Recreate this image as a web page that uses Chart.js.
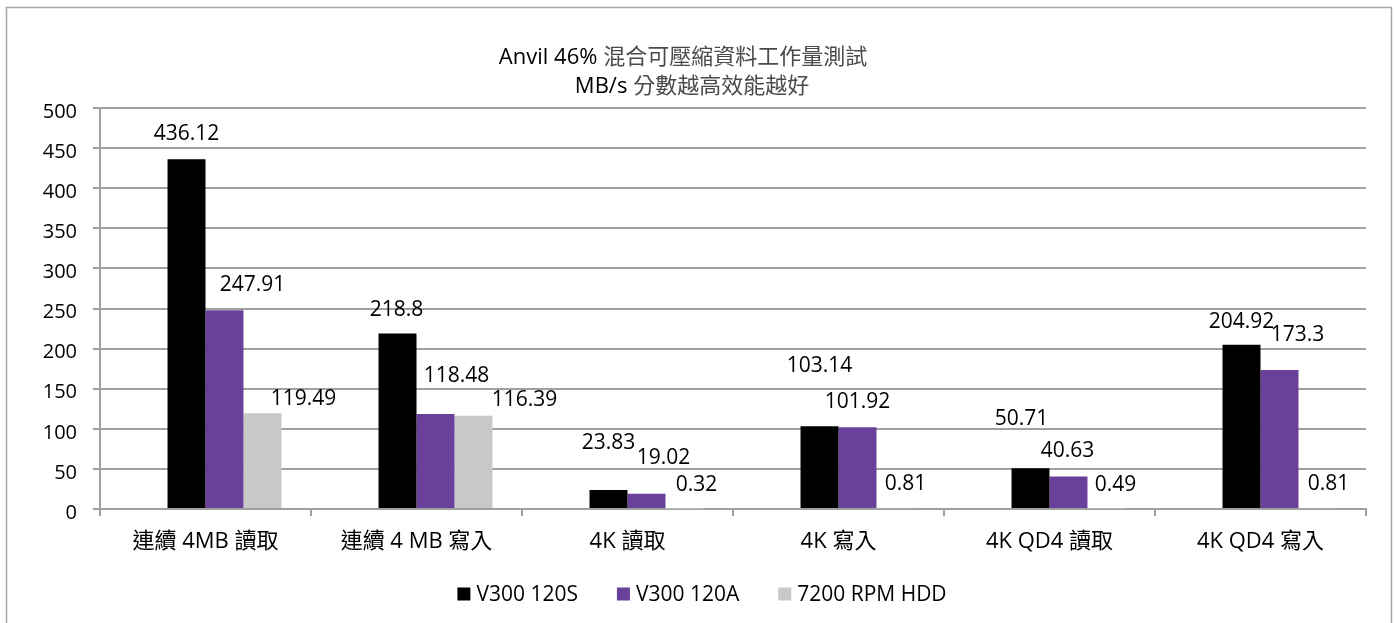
<!DOCTYPE html>
<html>
<head>
<meta charset="utf-8">
<script src="https://cdn.jsdelivr.net/npm/chart.js@4.4.1/dist/chart.umd.min.js"></script>
<style>
  html, body { margin: 0; padding: 0; background: #fff; }
  #wrap { width: 1394px; height: 623px; }
</style>
</head>
<body>
<div id="wrap"><canvas id="chart"></canvas></div>
<script>
const categories = ['連續 4MB 讀取', '連續 4 MB 寫入', '4K 讀取', '4K 寫入', '4K QD4 讀取', '4K QD4 寫入'];
const seriesNames = ['V300 120S', 'V300 120A', '7200 RPM HDD'];
const v300_120s = [436.12, 218.8, 23.83, 103.14, 50.71, 204.92];
const v300_120a = [247.91, 118.48, 19.02, 101.92, 40.63, 173.3];
const hdd7200 = [119.49, 116.39, 0.32, 0.81, 0.49, 0.81];
const yMin = 0, yMax = 500, yStep = 50;
const titleLines = [['Anvil 46% ', '混合可壓縮資料工作量測試'], ['MB/s ', '分數越高效能越好']];

const colors = ['#000000', '#6a419a', '#c8c8c8'];
const FONT = "'Open Sans', 'Noto Sans CJK TC', sans-serif";

// label nudges [dx, dy from bar top], mimicking the original placement
const labelNudge = [
  [[0, -25], [-1, -24], [0, -47], [0, -60], [-9, -49], [0, -23]],
  [[28, -25], [21, -38], [17, -36], [0, -25], [-1, -25], [18, -35]],
  [[41, -14], [51, -16], [12, -24], [10, -24], [9, -24], [11, -24]]
];

const seriesData = [v300_120s, v300_120a, hdd7200];

// empty first slot: the original groups reserve room for one unused series
const datasets = [{ label: '', data: categories.map(() => null), backgroundColor: 'rgba(0,0,0,0)' }];
seriesNames.forEach((name, i) => {
  datasets.push({ label: name, data: seriesData[i], backgroundColor: colors[i], borderWidth: 0 });
});

const framePlugin = {
  id: 'frame',
  beforeDraw(chart) {
    const ctx = chart.ctx;
    ctx.save();
    ctx.fillStyle = '#fff';
    ctx.fillRect(0, 0, chart.width, chart.height);
    ctx.strokeStyle = '#a6a6a6';
    ctx.lineWidth = 1.5;
    ctx.strokeRect(6.5, 7.5, 1385, 640);
    ctx.restore();
  },
  afterDraw(chart) {
    const ctx = chart.ctx;
    ctx.save();
    // title
    ctx.font = '22px ' + FONT;
    ctx.textBaseline = 'middle';
    ctx.textAlign = 'left';
    const ys = [58, 87];
    const cx = [683, 692];
    titleLines.forEach((parts, li) => {
      const w = parts.reduce((s, p) => s + ctx.measureText(p).width, 0);
      let x = cx[li] - w / 2;
      parts.forEach((p, pi) => {
        ctx.fillStyle = pi === 0 ? '#000' : '#4a4a4a';
        ctx.fillText(p, x, ys[li]);
        x += ctx.measureText(p).width;
      });
    });
    // legend
    ctx.font = '21px ' + FONT;
    const items = chart.data.datasets.filter(d => d.label);
    const box = 13, gapText = 6, gapItem = 39;
    const widths = items.map(d => box + gapText + ctx.measureText(d.label).width);
    const total = widths.reduce((a, b) => a + b, 0) + gapItem * (items.length - 1);
    let x = 702 - total / 2;
    const ly = 595;
    items.forEach((d, i) => {
      ctx.fillStyle = d.backgroundColor;
      ctx.fillRect(x, ly - box / 2 - 1, box, box);
      ctx.fillStyle = '#000';
      ctx.fillText(d.label, x + box + gapText, ly);
      x += widths[i] + gapItem;
    });
    ctx.restore();
  }
};

const labelPlugin = {
  id: 'barLabels',
  afterDatasetsDraw(chart) {
    const ctx = chart.ctx;
    ctx.save();
    ctx.font = '21px ' + FONT;
    ctx.fillStyle = '#000';
    ctx.textAlign = 'center';
    ctx.textBaseline = 'middle';
    for (let s = 0; s < seriesData.length; s++) {
      const meta = chart.getDatasetMeta(s + 1);
      meta.data.forEach((bar, j) => {
        const n = labelNudge[s][j];
        ctx.fillText(String(seriesData[s][j]), bar.x + n[0], bar.y + n[1]);
      });
    }
    ctx.restore();
  }
};

new Chart(document.getElementById('chart'), {
  type: 'bar',
  data: { labels: categories, datasets: datasets },
  options: {
    responsive: true,
    maintainAspectRatio: false,
    animation: false,
    layout: { padding: { top: 108, left: 0, right: 28, bottom: 49 } },
    datasets: { bar: { categoryPercentage: 0.72, barPercentage: 1.0 } },
    plugins: {
      legend: { display: false },
      title: { display: false },
      tooltip: { enabled: false }
    },
    scales: {
      x: {
        grid: { display: true, drawOnChartArea: false, drawTicks: true, tickLength: 7, color: '#a0a0a0', lineWidth: 2 },
        border: { display: true, color: '#a0a0a0', width: 2 },
        ticks: { color: '#000', padding: 13, font: { size: 22, family: FONT } },
        afterFit(scale) { scale.height = 65; }
      },
      y: {
        min: yMin,
        max: yMax,
        ticks: { stepSize: yStep, color: '#000', padding: 16, labelOffset: 4, font: { size: 20, family: FONT } },
        grid: { color: '#a0a0a0', lineWidth: 2, tickLength: 7 },
        border: { display: true, color: '#a0a0a0', width: 2 },
        afterFit(scale) { scale.width = 100; }
      }
    }
  },
  plugins: [framePlugin, labelPlugin]
});
</script>
</body>
</html>
